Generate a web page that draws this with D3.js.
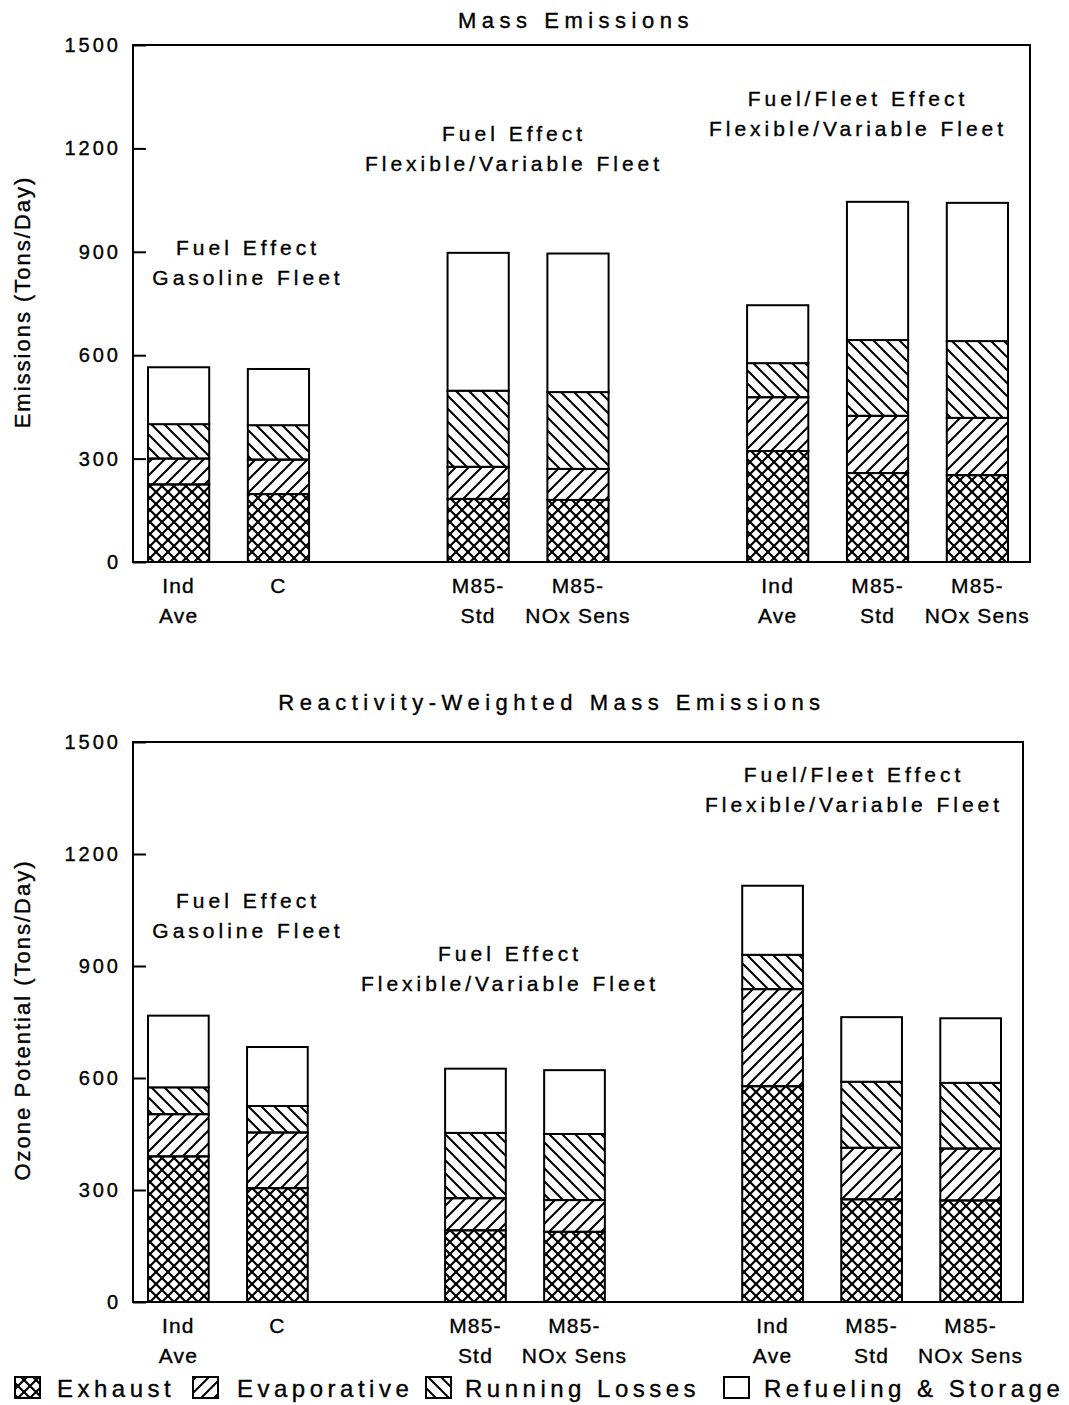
<!DOCTYPE html>
<html>
<head>
<meta charset="utf-8">
<title>Mass Emissions</title>
<script src="https://d3js.org/d3.v7.min.js"></script>
<style>
    body { margin: 0; background: #fff; }
    svg { display: block; font-family: "Liberation Sans", Arial, Helvetica, sans-serif; }
    text { fill: #000; stroke: #000; stroke-width: 0.35px; }
    .chartTitle { font-size: 22px; letter-spacing: 5.5px; }
    .yTitle { font-size: 22px; letter-spacing: 2px; }
    .axis text { font-size: 20px; letter-spacing: 3px; font-family: "Liberation Sans", Arial, sans-serif; }
    .axis line { stroke: #000; stroke-width: 2px; }
    .barLabel { font-size: 21px; letter-spacing: 1.2px; }
    .note { font-size: 21px; letter-spacing: 4px; }
    .legendText { font-size: 24px; letter-spacing: 4.5px; }
</style>
</head>
<body>
<script>
(function(){

    //series, stacked bottom to top
    var series = ["Exhaust", "Evaporative", "Running Losses", "Refueling & Storage"];

    //bars per group, left to right
    var groupSizes = [2, 2, 3];
    var barLabels = [["Ind", "Ave"], ["C"], ["M85-", "Std"], ["M85-", "NOx Sens"],
                     ["Ind", "Ave"], ["M85-", "Std"], ["M85-", "NOx Sens"]];

    //mass emissions (tons/day)
    var massExhaust = [225, 197, 183, 180, 322, 258, 252];
    var massEvap    = [75, 100, 93, 90, 156, 166, 166];
    var massRunning = [100, 100, 221, 223, 99, 220, 223];
    var massRefuel  = [165, 163, 400, 402, 168, 401, 401];

    //reactivity-weighted mass emissions (ozone potential, tons/day)
    var ozoneExhaust = [390, 305, 192, 188, 578, 275, 272];
    var ozoneEvap    = [113, 149, 86, 85, 260, 138, 139];
    var ozoneRunning = [72, 71, 175, 177, 92, 177, 176];
    var ozoneRefuel  = [192, 158, 172, 171, 185, 173, 173];

    var yTicks = [0, 300, 600, 900, 1200, 1500];

    //annotation texts
    var gasolineNote = ["Fuel Effect", "Gasoline Fleet"];
    var flexNote = ["Fuel Effect", "Flexible/Variable Fleet"];
    var fleetNote = ["Fuel/Fleet Effect", "Flexible/Variable Fleet"];

    var patternIds = ["hatchCross", "hatchFwd", "hatchBack", "none"];

    var width = 1069, height = 1405;

    var svg = d3.select("body")
        .append("svg")
        .attr("width", width)
        .attr("height", height);

    makePatterns(svg);

    //panel layouts
    drawPanel(svg, {
        left: 133, right: 1030, top: 45, bottom: 562,
        barStart: 148, barEnd: 1008,
        title: "Mass Emissions", titleX: 576, titleY: 28,
        yTitle: "Emissions (Tons/Day)", yTitleY: 302,
        values: [massExhaust, massEvap, massRunning, massRefuel],
        notes: [
            {text: gasolineNote, x: 248, y: 255},
            {text: flexNote, x: 514, y: 141},
            {text: fleetNote, x: 858, y: 106}
        ]
    });

    drawPanel(svg, {
        left: 133, right: 1023, top: 742, bottom: 1302,
        barStart: 148, barEnd: 1001,
        title: "Reactivity-Weighted Mass Emissions", titleX: 552, titleY: 710,
        yTitle: "Ozone Potential (Tons/Day)", yTitleY: 1020,
        values: [ozoneExhaust, ozoneEvap, ozoneRunning, ozoneRefuel],
        notes: [
            {text: gasolineNote, x: 248, y: 908},
            {text: flexNote, x: 510, y: 961},
            {text: fleetNote, x: 854, y: 782}
        ]
    });

    drawLegend(svg);

    //hatch fills
    function makePatterns(svg){
        var defs = svg.append("defs");

        defs.append("pattern")
            .attr("id", "hatchCross")
            .attr("patternUnits", "userSpaceOnUse")
            .attr("width", 12)
            .attr("height", 12)
            .append("path")
            .attr("d", "M-1,-1L13,13M-1,13L13,-1")
            .attr("stroke", "#000")
            .attr("stroke-width", 2.2);

        defs.append("pattern")
            .attr("id", "hatchFwd")
            .attr("patternUnits", "userSpaceOnUse")
            .attr("width", 13)
            .attr("height", 13)
            .append("path")
            .attr("d", "M-1,14L14,-1M-7,7L7,-7M6,20L20,6")
            .attr("stroke", "#000")
            .attr("stroke-width", 2);

        defs.append("pattern")
            .attr("id", "hatchBack")
            .attr("patternUnits", "userSpaceOnUse")
            .attr("width", 13)
            .attr("height", 13)
            .append("path")
            .attr("d", "M-1,-1L14,14M-7,6L7,20M6,-7L20,7")
            .attr("stroke", "#000")
            .attr("stroke-width", 2);
    };

    function fillFor(i){
        return patternIds[i] == "none" ? "#fff" : "url(#" + patternIds[i] + ")";
    };

    function drawPanel(svg, cfg){
        //slot keys for the band scale, with an empty slot between groups
        var slots = [], barKeys = [], n = 0;
        groupSizes.forEach(function(size, g){
            if (g > 0) slots.push("gap" + g);
            for (var k = 0; k < size; k++){
                slots.push("bar" + n);
                barKeys.push("bar" + n);
                n++;
            }
        });

        //table for the stack layout
        var table = barKeys.map(function(key, i){
            var row = {key: key};
            series.forEach(function(s, j){ row[s] = cfg.values[j][i]; });
            return row;
        });

        var stacked = d3.stack().keys(series)(table);

        var x = d3.scaleBand()
            .domain(slots)
            .range([cfg.barStart, cfg.barEnd])
            .paddingInner(0.387)
            .paddingOuter(0);

        var y = d3.scaleLinear()
            .domain([0, 1500])
            .range([cfg.bottom, cfg.top]);

        var panel = svg.append("g");

        //stacked bars
        var layers = panel.selectAll(".layer")
            .data(stacked)
            .enter()
            .append("g")
            .attr("class", "layer");

        layers.selectAll("rect")
            .data(function(d, i){
                return d.map(function(p){ return {p: p, s: i}; });
            })
            .enter()
            .append("rect")
            .attr("x", function(d){ return x(d.p.data.key); })
            .attr("width", x.bandwidth())
            .attr("y", function(d){ return y(d.p[1]); })
            .attr("height", function(d){ return y(d.p[0]) - y(d.p[1]); })
            .attr("fill", function(d){ return fillFor(d.s); })
            .attr("stroke", "#000")
            .attr("stroke-width", 2);

        //frame
        panel.append("rect")
            .attr("x", cfg.left)
            .attr("y", cfg.top)
            .attr("width", cfg.right - cfg.left)
            .attr("height", cfg.bottom - cfg.top)
            .attr("fill", "none")
            .attr("stroke", "#000")
            .attr("stroke-width", 2);

        //y axis with inward ticks
        var yAxis = d3.axisLeft(y)
            .tickValues(yTicks)
            .tickSize(-13)
            .tickPadding(12)
            .tickFormat(d3.format("d"));

        var axis = panel.append("g")
            .attr("class", "axis")
            .attr("transform", "translate(" + cfg.left + ",0)")
            .call(yAxis);
        axis.select(".domain").remove();
        axis.selectAll("text").attr("font-size", null).attr("font-family", null);

        //bar labels
        barKeys.forEach(function(key, i){
            var t = panel.append("text")
                .attr("class", "barLabel")
                .attr("text-anchor", "middle")
                .attr("x", x(key) + x.bandwidth() / 2)
                .attr("y", cfg.bottom + 31);
            barLabels[i].forEach(function(line, j){
                t.append("tspan")
                    .attr("x", x(key) + x.bandwidth() / 2)
                    .attr("dy", j == 0 ? 0 : 30)
                    .text(line);
            });
        });

        //titles
        panel.append("text")
            .attr("class", "chartTitle")
            .attr("text-anchor", "middle")
            .attr("x", cfg.titleX)
            .attr("y", cfg.titleY)
            .text(cfg.title);

        panel.append("text")
            .attr("class", "yTitle")
            .attr("text-anchor", "middle")
            .attr("transform", "translate(30," + cfg.yTitleY + ") rotate(-90)")
            .text(cfg.yTitle);

        //group annotations
        cfg.notes.forEach(function(note){
            note.text.forEach(function(line, j){
                panel.append("text")
                    .attr("class", "note")
                    .attr("text-anchor", "middle")
                    .attr("x", note.x)
                    .attr("y", note.y + j * 30)
                    .text(line);
            });
        });
    };

    function drawLegend(svg){
        var iconX = [15, 193, 426, 724],
            textX = [57, 237, 465, 764];

        var legend = svg.append("g").attr("class", "legend");

        series.forEach(function(s, i){
            legend.append("rect")
                .attr("x", iconX[i])
                .attr("y", 1377)
                .attr("width", 25)
                .attr("height", 21)
                .attr("fill", fillFor(i))
                .attr("stroke", "#000")
                .attr("stroke-width", 2);

            legend.append("text")
                .attr("class", "legendText")
                .attr("x", textX[i])
                .attr("y", 1397)
                .text(s);
        });
    };

})();
</script>
</body>
</html>
